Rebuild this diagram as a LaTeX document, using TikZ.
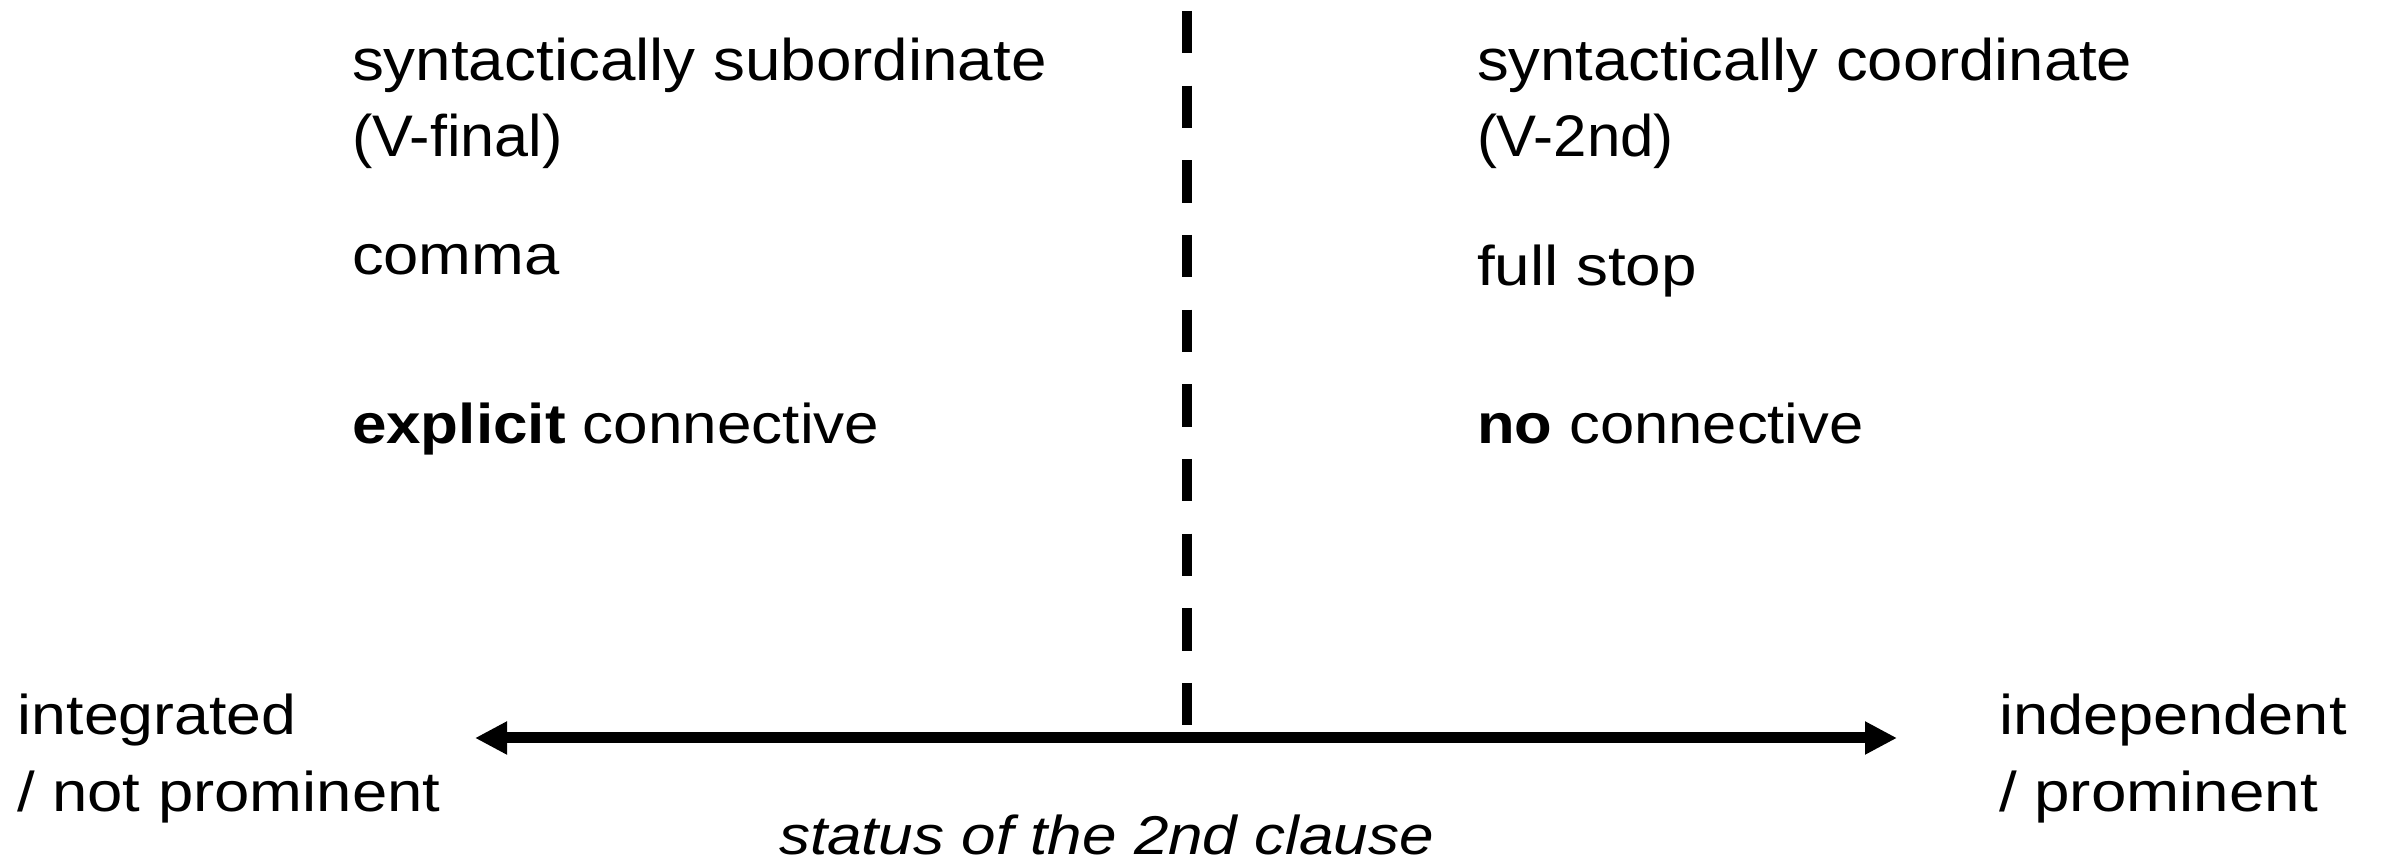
\documentclass[tikz,border=0pt]{standalone}
\usepackage{fontspec}
\setmainfont{Liberation Sans}
\usepackage{graphicx}
\usetikzlibrary{arrows.meta}
\newcommand{\fitw}[2]{\resizebox{#1}{\height}{#2}}
\tikzset{
  lbl/.style={anchor=base west, inner sep=0pt, outer sep=0pt, font=\fontsize{16.8}{20}\selectfont},
  toplbl/.style={anchor=base west, inner sep=0pt, outer sep=0pt, font=\fontsize{17.6}{20}\selectfont},
  itl/.style={anchor=base west, inner sep=0pt, outer sep=0pt, text depth=0pt, font=\fontsize{16.4}{19}\selectfont\itshape},
  scaleline/.style={line width=3.3pt, {Triangle[length=9.6pt,width=9.3pt]}-{Triangle[length=9.6pt,width=9.3pt]}},
  divider/.style={line width=3pt, dash pattern=on 12.75pt off 9.65pt}
}
\begin{document}
\begin{tikzpicture}[x=0.3pt,y=-0.3pt]
\useasboundingbox[fill=white] (0,0) rectangle (2381,864);
% divider
\coordinate (dtop) at (1187,11);
\coordinate (dbot) at (1187,726);
\draw[divider] (dtop) -- (dbot);
% scale arrow
\coordinate (left) at (475,738);
\coordinate (right) at (1897,738);
\draw[scaleline] (left) -- (right);
% left column
\node[toplbl] (subA) at (352,81) {\fitw{208.4pt}{syntactically subordinate}};
\node[toplbl] (subB) at (352,157) {\fitw{63.2pt}{(V-final)}};
\node[lbl] (comma) at (352,275) {\fitw{62.3pt}{comma}};
\node[lbl] (expl) at (352,444) {\fitw{158.2pt}{\textbf{explicit} connective}};
% right column
\node[toplbl] (coA) at (1477,81) {\fitw{196.6pt}{syntactically coordinate}};
\node[toplbl] (coB) at (1477,157) {\fitw{59pt}{(V-2nd)}};
\node[lbl] (stop) at (1477,286) {\fitw{66pt}{full stop}};
\node[lbl] (noconn) at (1477,444) {\fitw{116pt}{\textbf{no} connective}};
% ends
\node[lbl] (intA) at (18,735) {\fitw{83.5pt}{integrated}};
\node[lbl] (intB) at (17,812) {\fitw{127pt}{/ not prominent}};
\node[lbl] (indA) at (1999,735) {\fitw{104.3pt}{independent}};
\node[lbl] (indB) at (1999,812) {\fitw{95.7pt}{/ prominent}};
% axis label
\node[itl] (status) at (779,855) {\fitw{196.5pt}{status of the 2nd clause}};
\end{tikzpicture}
\end{document}
